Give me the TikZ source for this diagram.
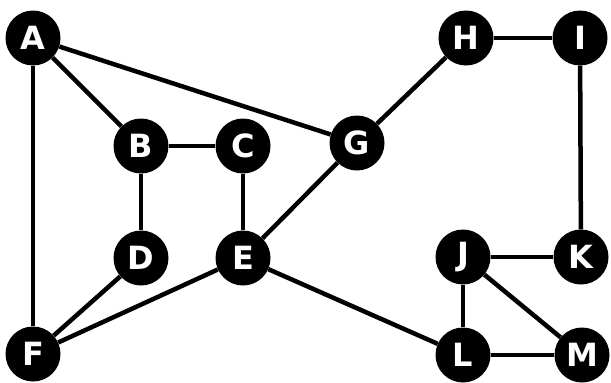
\documentclass[tikz,border=0pt]{standalone}
\usepackage{fontspec}
\setmainfont{DejaVu Sans}
\begin{document}
\begin{tikzpicture}[x=1pt,y=-1pt,
  vtx/.style={circle,fill=black,minimum size=55pt,inner sep=0pt,text=white,font=\bfseries\fontsize{32}{32}\selectfont},
  edge/.style={line width=4.5pt,black}]
\useasboundingbox (0,0) rectangle (611,383);
\node[vtx] (A) at (33,38) {A};
\node[vtx] (B) at (141,146) {B};
\node[vtx] (C) at (243,146) {C};
\node[vtx] (G) at (357,143) {G};
\node[vtx] (H) at (466,38) {H};
\node[vtx] (I) at (580,38) {I};
\node[vtx] (D) at (141,258) {D};
\node[vtx] (E) at (243,258) {E};
\node[vtx] (J) at (463,257) {J};
\node[vtx] (K) at (581,257) {K};
\node[vtx] (F) at (33,354) {F};
\node[vtx] (L) at (463,355) {L};
\node[vtx] (M) at (582,355) {M};
\foreach \a/\b in {A/B,A/F,A/G,B/C,B/D,C/E,D/F,E/F,E/G,E/L,G/H,H/I,I/K,J/K,J/L,J/M,L/M}
  \draw[edge] (\a) -- (\b);
\end{tikzpicture}
\end{document}
